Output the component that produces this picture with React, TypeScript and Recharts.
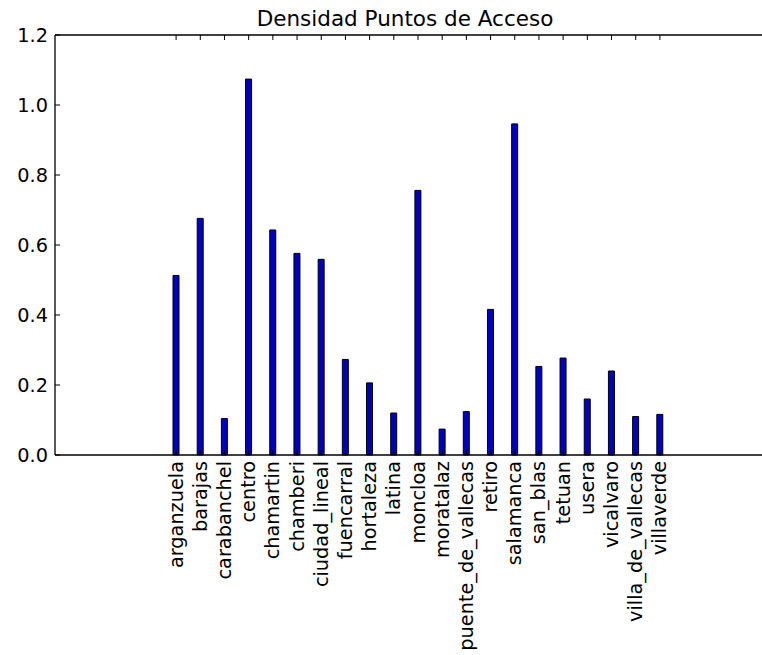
import React from "react";
import { BarChart, Bar, XAxis, YAxis } from "recharts";

const districts = [
  "arganzuela", "barajas", "carabanchel", "centro", "chamartin", "chamberi",
  "ciudad_lineal", "fuencarral", "hortaleza", "latina", "moncloa", "moratalaz",
  "puente_de_vallecas", "retiro", "salamanca", "san_blas", "tetuan", "usera",
  "vicalvaro", "villa_de_vallecas", "villaverde",
];
const densidad = [
  0.513, 0.676, 0.104, 1.074, 0.643, 0.576, 0.559, 0.273, 0.206, 0.120, 0.756,
  0.074, 0.124, 0.416, 0.946, 0.253, 0.277, 0.160, 0.240, 0.110, 0.116,
];
const yTicks = [0, 0.2, 0.4, 0.6, 0.8, 1.0, 1.2];

const data = districts.map((d, i) => ({ name: d, value: densidad[i] }));

const FONT = "'DejaVu Sans', sans-serif";

const BottomTick = (props: any) => {
  const { x, y, payload } = props;
  return (
    <g>
      <line x1={x} x2={x} y1={y} y2={y - 5} stroke="#000" strokeWidth={1} />
      <text
        x={0}
        y={0}
        transform={`translate(${x},${y + 6}) rotate(-90)`}
        textAnchor="end"
        dominantBaseline="central"
        fontFamily={FONT}
        fontSize={19.3}
        fill="#000"
      >
        {payload.value}
      </text>
    </g>
  );
};

const TopTick = (props: any) => {
  const { x, y } = props;
  return <line x1={x} x2={x} y1={y} y2={y + 5} stroke="#000" strokeWidth={1} />;
};

const LeftTick = (props: any) => {
  const { x, y, payload } = props;
  return (
    <g>
      <line x1={x} x2={x + 5} y1={y} y2={y} stroke="#000" strokeWidth={1} />
      <text
        x={x - 7}
        y={y}
        textAnchor="end"
        dominantBaseline="central"
        fontFamily={FONT}
        fontSize={19.3}
        fill="#000"
      >
        {Number(payload.value).toFixed(1)}
      </text>
    </g>
  );
};

export default function App() {
  return (
    <div
      style={{
        position: "absolute",
        left: 0,
        top: 0,
        width: 762,
        height: 655,
        overflow: "hidden",
        background: "#fff",
      }}
    >
      <div
        style={{
          position: "absolute",
          top: 6,
          left: 55,
          width: 700,
          textAlign: "center",
          fontFamily: FONT,
          fontSize: 21.5,
          lineHeight: "normal",
          color: "#000",
        }}
      >
        Densidad Puntos de Acceso
      </div>
      <BarChart
        width={780}
        height={655}
        data={data}
        margin={{ top: 34, right: 0, bottom: 199, left: 54 }}
        barCategoryGap={0}
      >
        <XAxis
          xAxisId="bottom"
          dataKey="name"
          orientation="bottom"
          height={1}
          interval={0}
          tickLine={false}
          tickSize={0}
          tickMargin={0}
          padding={{ left: 109, right: 108 }}
          axisLine={{ stroke: "#000", strokeWidth: 1.3 }}
          tick={BottomTick}
        />
        <XAxis
          xAxisId="top"
          dataKey="name"
          orientation="top"
          height={1}
          interval={0}
          tickLine={false}
          tickSize={0}
          tickMargin={0}
          padding={{ left: 109, right: 108 }}
          axisLine={{ stroke: "#000", strokeWidth: 1.3 }}
          tick={TopTick}
        />
        <YAxis
          width={1}
          domain={[0, 1.2]}
          ticks={yTicks}
          interval={0}
          tickLine={false}
          tickSize={0}
          tickMargin={0}
          axisLine={{ stroke: "#000", strokeWidth: 1.3 }}
          tick={LeftTick}
        />
        <Bar
          xAxisId="bottom"
          dataKey="value"
          barSize={6}
          fill="#0000c0"
          stroke="#000"
          strokeWidth={1}
          isAnimationActive={false}
        />
      </BarChart>
    </div>
  );
}
